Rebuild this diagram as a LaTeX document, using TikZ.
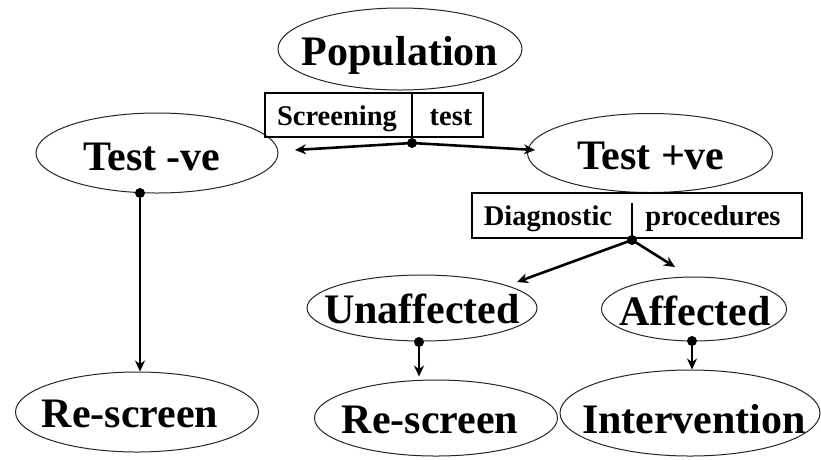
\documentclass[tikz,border=0pt]{standalone}
\usepackage{fontspec}
\setmainfont{Liberation Serif}
\usetikzlibrary{shapes.geometric,arrows.meta}
\begin{document}
\begin{tikzpicture}[x=1pt,y=-1pt,
 oval/.style={draw=black!85,line width=1pt,ellipse,inner sep=0pt},
 big/.style={anchor=base,inner sep=0pt,font=\fontsize{42}{42}\selectfont\bfseries},
 small/.style={anchor=base,inner sep=0pt,font=\fontsize{28.5}{28.5}\selectfont\bfseries},
 labbox/.style={draw,line width=1.1pt,inner sep=0pt},
 conn/.style={line width=2.6pt},
 arr/.style={conn,-{Stealth[length=11pt,width=10pt]}},
 dot/.style={circle,fill=black,inner sep=0pt,minimum size=10pt}]
\useasboundingbox (0,0) rectangle (821,459);
\fill[white] (0,0) rectangle (821,459);
% ellipses
\node[oval,minimum width=244pt,minimum height=82pt] (pop) at (400,49) {};
\node[oval,minimum width=242pt,minimum height=80pt] (tneg) at (157,153) {};
\node[oval,minimum width=245pt,minimum height=79pt] (tpos) at (650,153) {};
\node[oval,minimum width=230pt,minimum height=66pt] (unaff) at (422,308) {};
\node[oval,minimum width=185pt,minimum height=64pt] (aff) at (694,309) {};
\node[oval,minimum width=243pt,minimum height=80pt] (rs1) at (137,412) {};
\node[oval,minimum width=243pt,minimum height=76pt] (rs2) at (436,418) {};
\node[oval,minimum width=260pt,minimum height=86pt] (intv) at (690,413) {};
% boxes
\node[labbox,minimum width=218pt,minimum height=44pt] (sbox) at (374,115) {};
\node[labbox,minimum width=330pt,minimum height=45pt] (dbox) at (637,215.5) {};
% texts
\node[big] (tpop) at (400,65) {Population};
\node[big] (ttneg) at (152,170) {Test -ve};
\node[big] (ttpos) at (651,169) {Test +ve};
\node[big] (tunaff) at (422,323) {Unaffected};
\node[big] (taff) at (695,325) {Affected};
\node[big] (trs1) at (130,427) {Re-screen};
\node[big] (trs2) at (430,433) {Re-screen};
\node[big] (tintv) at (694,433) {Intervention};
\node[small] (tscr) at (337,125) {Screening};
\node[small] (ttest) at (451,125) {test};
\node[small] (tdiag) at (548,225) {Diagnostic};
\node[small] (tproc) at (713,225) {procedures};
% dots and coordinates
\node[dot] (d1) at (412,143) {};
\node[dot] (d2) at (632,240) {};
\node[dot] (d3) at (140,193) {};
\node[dot] (d4) at (419,342) {};
\node[dot] (d5) at (692,341) {};
\coordinate (s1) at (412,92);
\coordinate (s2) at (632,203);
\coordinate (e1) at (295,150);
\coordinate (e2) at (535,150);
\coordinate (e3) at (517,282);
\coordinate (e4) at (675,267);
% connectors
\draw[conn] (s1) -- (d1.center);
\draw[arr] (d1.center) -- (e1);
\draw[arr] (d1.center) -- (e2);
\draw[conn] (s2) -- (d2.center);
\draw[arr] (d2.center) -- (e3);
\draw[arr] (d2.center) -- (e4);
\draw[arr] (d3.center) -- (d3 |- rs1.north);
\draw[arr,shorten >=3pt] (d4.center) -- (d4 |- rs2.north);
\draw[arr] (d5.center) -- (d5 |- intv.north);
\end{tikzpicture}
\end{document}
